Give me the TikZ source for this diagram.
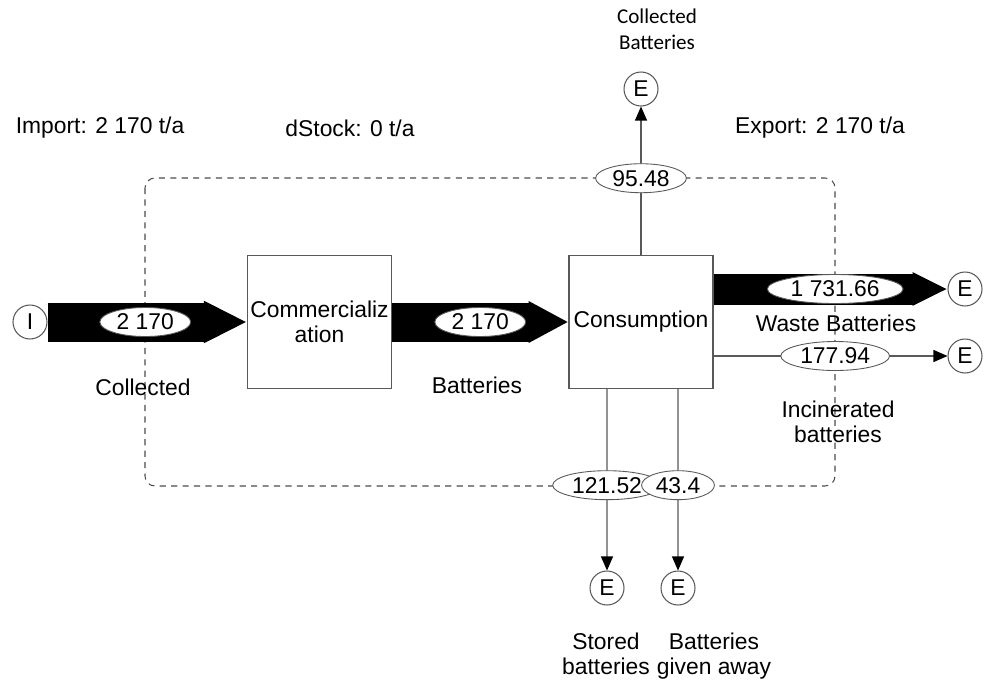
\documentclass[tikz,border=0pt]{standalone}
\usepackage{fontspec}
\setmainfont{Liberation Sans}
\newfontfamily\calfont{Carlito}
\usepackage{xcolor}
\usetikzlibrary{arrows.meta, shapes.geometric}

\definecolor{linegray}{gray}{0.35}

\tikzset{
  proc/.style={draw=linegray, line width=0.6pt, minimum width=2.88cm, minimum height=2.66cm, align=center, inner sep=1pt},
  ext/.style={circle, draw=linegray, line width=0.6pt, minimum size=0.68cm, inner sep=0pt},
  val/.style={ellipse, draw=linegray, line width=0.5pt, fill=white, minimum height=0.58cm, inner xsep=2pt, inner ysep=0pt},
  bigflow/.style 2 args={line width=#1, -{Triangle[length=#2, width=#1]}},
  thinflow/.style={draw=linegray, line width=0.6pt, -{Triangle[length=0.28cm, width=0.24cm, color=black]}},
  boundary/.style={draw=black!70, line width=0.6pt, dash pattern=on 3.5pt off 3pt, rounded corners=0.2cm},
}

\begin{document}
\begin{tikzpicture}[x=0.02cm, y=-0.02cm, font=\fontsize{13}{14}\selectfont]
  \useasboundingbox (0,0) rectangle (989,679);
  % processes
  \node[proc] (com) at (319.5,322) {Commercializ\\ation};
  \node[proc] (con) at (641,322) {Consumption};
  % import / export
  \node[ext] (imp) at (30,322) {I};
  \node[ext] (eCol) at (641,89) {E};
  \node[ext] (eWst) at (965,289) {E};
  \node[ext] (eInc) at (965,356) {E};
  \node[ext] (eSto) at (607,588) {E};
  \node[ext] (eGiv) at (678,588) {E};
  % system boundary
  \draw[boundary] (145,178) rectangle (835,486);
  % flows
  \draw[bigflow={0.78cm}{0.86cm}] (imp) -- (com) node[val, pos=.49] (f1) {2 170};
  \draw[bigflow={0.78cm}{0.8cm}] (com) -- (con) node[val, pos=.5] (f2) {2 170};
  \draw[bigflow={0.62cm}{0.7cm}] (con.east |- eWst) -- (eWst) node[val, pos=.52] (f3) {1 731.66};
  \draw[thinflow] (con.east |- eInc) -- (eInc) node[val, pos=.52] (f4) {177.94};
  \draw[thinflow] (con) -- (eCol) node[val, pos=.517] (f5) {95.48};
  \draw[thinflow] ([xshift=-0.68cm]con.south) -- (eSto) node[val, pos=.53] (f6) {121.52};
  \draw[thinflow] ([xshift=0.74cm]con.south) -- (eGiv) node[val, pos=.53] (f7) {43.4};
  % texts
  \node (tImp) at (100,128) {Import: 2 170 t/a};
  \node (tStk) at (350,128) {dStock: 0 t/a};
  \node (tExp) at (820,128) {Export: 2 170 t/a};
  \node (lCol) at (143,387) {Collected};
  \node (lBat) at (477,385) {Batteries};
  \node (lWst) at (836,323) {Waste Batteries};
  \node[align=center] (lInc) at (838,422) {Incinerated\\batteries};
  \node[align=center, font=\calfont\fontsize{12}{15}\selectfont] (lColB) at (657,29) {Collected\\Batteries};
  \node[align=center] (lSto) at (606,654) {Stored\\batteries};
  \node[align=center] (lGiv) at (714,656) {Batteries\\given away};
\end{tikzpicture}
\end{document}
